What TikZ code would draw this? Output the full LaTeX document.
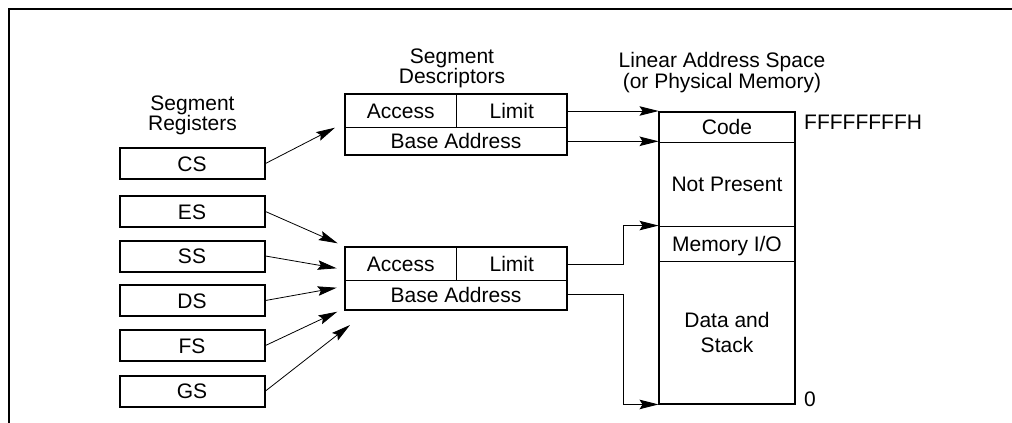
\documentclass[tikz,border=0pt]{standalone}
\usepackage{fontspec}
\setmainfont{Liberation Sans}
\usetikzlibrary{arrows.meta}
\begin{document}
\begin{tikzpicture}[x=1pt,y=-1pt,
  title/.style={font=\fontsize{21}{19.5}\selectfont, inner sep=0pt, align=center},
  lbl/.style={font=\fontsize{21}{19.5}\selectfont, inner sep=0pt, text height=15pt, text depth=0pt},
  reg/.style={draw, line width=2pt, minimum width=145pt, minimum height=31pt, inner sep=0pt,
              font=\fontsize{21}{19.5}\selectfont, text height=15pt, text depth=0pt},
  rowbox/.style={draw, line width=0.9pt, minimum width=222pt, inner sep=0pt},
  segbox/.style={draw, line width=0.9pt, minimum width=136pt, inner sep=0pt},
  outline/.style={draw, line width=2pt},
  arr/.style={line width=1pt, -{Stealth[length=19pt,width=9.5pt,inset=3pt]}},
  regarr/.style={line width=0.8pt, -{Stealth[length=19pt,width=9.5pt,inset=3pt]}},
]
\useasboundingbox (0,0) rectangle (1012,423);
% frame
\draw[line width=2pt] (9,423) -- (9,9) -- (1012,9);

% titles
\node[title] (tReg) at (192.5,115.4) {Segment\\Registers};
\node[title] (tDesc) at (452,68.4) {Segment\\Descriptors};
\node[title] (tLin) at (722,72.4) {Linear Address Space\\(or Physical Memory)};

% segment registers
\node[reg] (CS) at (192,163.5) {CS};
\node[reg] (ES) at (192,211.5) {ES};
\node[reg] (SS) at (192,256) {SS};
\node[reg] (DS) at (192,300.5) {DS};
\node[reg] (FS) at (192,345.5) {FS};
\node[reg] (GS) at (192,391) {GS};

% descriptor 1
\node[rowbox, minimum height=33.7pt] (d1top) at (456,111) {};
\node[rowbox, minimum height=27.3pt] (d1bot) at (456,141.3) {};
\draw[line width=0.9pt] (d1top.north) -- (d1top.south);
\draw[outline] (d1top.north west) rectangle (d1bot.south east);
\node[lbl] (d1acc) at (400.8,111) {Access};
\node[lbl] (d1lim) at (511.8,111) {Limit};
\node[lbl] (d1base) at (d1bot.center) {Base Address};

% descriptor 2
\node[rowbox, minimum height=33pt] (d2top) at (456,264.2) {};
\node[rowbox, minimum height=28.3pt] (d2bot) at (456,294.9) {};
\draw[line width=0.9pt] (d2top.north) -- (d2top.south);
\draw[outline] (d2top.north west) rectangle (d2bot.south east);
\node[lbl] (d2acc) at (400.8,264.2) {Access};
\node[lbl] (d2lim) at (511.8,264.2) {Limit};
\node[lbl] (d2base) at (d2bot.center) {Base Address};

% memory
\node[segbox, minimum height=30pt] (memcode) at (727,127) {};
\node[segbox, minimum height=84pt] (memnp) at (727,184) {};
\node[segbox, minimum height=35pt] (memio) at (727,243.5) {};
\node[segbox, minimum height=143pt] (memds) at (727,332.5) {};
\draw[outline] (memcode.north west) rectangle (memds.south east);
\node[lbl] (lcode) at (memcode.center) {Code};
\node[lbl] (lnp) at (memnp.center) {Not Present};
\node[lbl] (lio) at (memio.center) {Memory I/O};
\node[font=\fontsize{21}{25}\selectfont, inner sep=0pt, align=center] (lds) at (memds.center) {Data and\\Stack};
\node[lbl, anchor=west] (ltop) at (804,121.6) {FFFFFFFFH};
\node[lbl, anchor=west] (lzero) at (804,398.8) {0};

% register arrows
\coordinate (tCS) at (335,127.7);
\coordinate (tES) at (337.7,243.3);
\coordinate (tSS) at (336.7,268.3);
\coordinate (tDS) at (336.7,287.7);
\coordinate (tFS) at (337.3,311.7);
\coordinate (tGS) at (350,325);
\draw[regarr] (CS.east) -- (tCS);
\draw[regarr] (ES.east) -- (tES);
\draw[regarr] (SS.east) -- (tSS);
\draw[regarr] (DS.east) -- (tDS);
\draw[regarr] (FS.east) -- (tFS);
\draw[regarr] (GS.east) -- (tGS);

% descriptor to memory arrows
\draw[arr] (d1top.east) -- (d1top.east -| memcode.west);
\draw[arr] (d1bot.east) -- (d1bot.east -| memcode.west);
\draw[arr] (d2top.east) -- ++(55.7,0) |- (memio.north west);
\draw[arr] (d2bot.east) -- ++(55.7,0) |- (memds.south west);
\end{tikzpicture}
\end{document}
